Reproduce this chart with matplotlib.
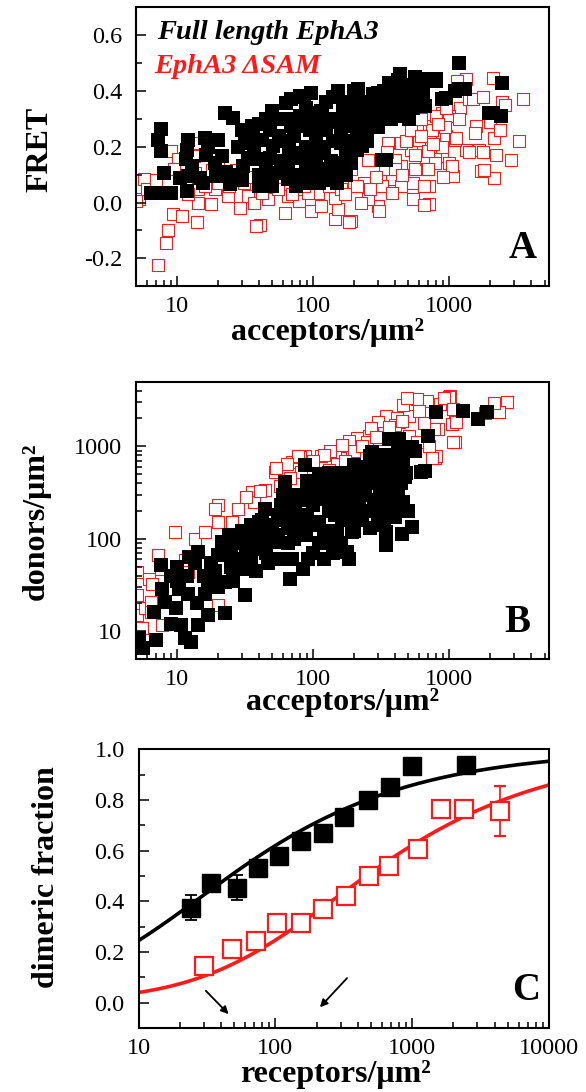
import matplotlib
matplotlib.use("Agg")
import matplotlib.pyplot as plt
import numpy as np
from matplotlib.ticker import FixedLocator, LogLocator, MultipleLocator, NullFormatter, FuncFormatter

plt.rcParams["font.family"] = ["Liberation Serif", "DejaVu Serif"]

# ---- panel A: FRET vs acceptor density ----
fl_a_x = [7.6, 7.3, 7.7, 8.0, 6.45, 7.7, 9.1, 10.5, 12.1, 11.9, 11.6, 12.1, 11.9, 14.7, 16.0, 16.3, 15.5,
          20.1, 19.2, 22.6, 26.0, 21.3, 24.4, 31.7, 30.4, 35.5, 38.5, 41.6, 40, 52.8, 51, 52.8, 62.7, 68.3,
          68.3, 74, 65, 77, 80, 56, 42, 37, 75,
          96.7, 152, 214, 301, 436, 425, 597, 793, 888, 1180, 1300, 1180, 2090, 319, 345, 108, 144, 91,
          191, 254, 337, 449, 502, 597, 161, 121, 227, 86, 117,
          2430, 1970, 2410, 1250, 940, 708, 800, 665, 1100,
          45, 45, 58, 58, 72, 72, 88, 88, 88, 105, 105, 105, 125, 125, 125, 150, 150, 150, 175, 175, 175,
          210, 210, 210, 250, 250, 250, 300, 300, 370, 370, 450, 450, 540, 540, 640, 640, 110, 130,
          28, 28, 33, 36, 48, 48, 48, 62, 62, 66, 80, 80, 80, 95, 95, 115, 115, 115, 135, 135, 140, 160,
          160, 165, 190, 190, 195, 230, 230, 275, 275, 330, 330, 410, 500, 500, 19, 23, 17, 13,
          100, 100, 100, 115, 140, 140, 170, 170, 200, 200, 200, 240, 240, 280, 280, 320, 320, 360, 360,
          420, 420, 480, 480, 560, 560, 30, 30, 40, 40, 50, 50, 65, 65, 85, 85, 95, 95]
fl_a_y = [0.262, 0.226, 0.184, 0.107, 0.035, 0.035, 0.035, 0.089, 0.226, 0.19, 0.155, 0.095, 0.04, 0.089,
          0.23, 0.172, 0.07, 0.226, 0.095, 0.322, 0.304, 0.166, 0.065, 0.214, 0.131, 0.274, 0.155, 0.083,
          0.059, 0.298, 0.202, 0.107, 0.358, 0.274, 0.37, 0.179, 0.083, 0.274, 0.382, 0.238, 0.226, 0.19,
          0.059,
          0.394, 0.40, 0.406, 0.394, 0.46, 0.417, 0.436, 0.442, 0.37, 0.406, 0.406, 0.501, 0.322, 0.154,
          0.154, 0.094, 0.107, 0.071, 0.274, 0.31, 0.334, 0.358, 0.298, 0.358, 0.214, 0.179, 0.202, 0.274,
          0.31,
          0.43, 0.322, 0.31, 0.406, 0.376, 0.442, 0.436, 0.346, 0.40,
          0.12, 0.30, 0.15, 0.22, 0.10, 0.24, 0.13, 0.20, 0.34, 0.16, 0.23, 0.30, 0.10, 0.26, 0.36, 0.07,
          0.14, 0.29, 0.10, 0.18, 0.36, 0.19, 0.26, 0.36, 0.22, 0.28, 0.36, 0.27, 0.36, 0.30, 0.40, 0.31,
          0.40, 0.34, 0.40, 0.37, 0.42, 0.07, 0.08,
          0.10, 0.20, 0.16, 0.24, 0.08, 0.16, 0.26, 0.12, 0.30, 0.19, 0.08, 0.16, 0.31, 0.10, 0.26, 0.12,
          0.20, 0.33, 0.15, 0.30, 0.38, 0.11, 0.25, 0.33, 0.14, 0.22, 0.31, 0.24, 0.33, 0.31, 0.39, 0.30,
          0.40, 0.34, 0.36, 0.42, 0.14, 0.11, 0.20, 0.13,
          0.12, 0.20, 0.27, 0.28, 0.10, 0.22, 0.14, 0.28, 0.22, 0.30, 0.40, 0.26, 0.32, 0.28, 0.35, 0.33,
          0.38, 0.35, 0.43, 0.37, 0.44, 0.33, 0.39, 0.38, 0.45, 0.26, 0.08, 0.10, 0.28, 0.06, 0.33, 0.30,
          0.14, 0.08, 0.38, 0.16, 0.32]

dsam_a_x = [5.3, 5.76, 7.2, 8.3, 8.6, 9.3, 10.8, 14.0, 9.1, 10.8, 10.2, 13.3, 13.6, 14.2, 18, 14.2, 19,
            23.8, 29.1, 33, 36.5, 41, 47, 62, 65, 79, 80, 20, 27, 24, 31, 42, 14.2, 17.8,
            1180, 888, 1200, 1400, 1580, 1320, 1650, 1700, 1000, 708, 720, 940, 1100, 888, 708, 560, 670,
            520, 440, 380, 540, 440, 355, 318, 300, 253, 305, 225, 191, 144, 152, 96, 115, 144, 200, 237,
            335, 191, 253, 108, 160, 91, 400, 440, 380, 540, 600, 790, 1000, 1060,
            3470, 3270, 2850, 2140, 1810, 2090, 2440, 2550, 2140, 2200, 1780, 1400, 1550, 1320, 1130, 1490,
            1780, 1180, 1120, 935, 880, 1050, 780, 740, 700, 708, 800, 2000, 2360, 680, 650,
            5.0, 6, 7, 9.5, 12, 16, 20, 25, 33, 40, 55, 70, 85, 130, 170, 210, 260, 290, 350, 400, 450, 480,
            520, 560, 620, 620, 700, 760, 820, 900, 950, 183, 650, 38]
dsam_a_y = [0.011, 0.083, -0.223, -0.145, -0.10, -0.043, -0.048, -0.069, 0.184, 0.118, 0.155, 0.166, 0.107,
            0.048, 0.118, 0.214, 0.048, 0.024, -0.018, 0.024, 0.0, -0.079, 0.011, -0.036, 0.024, 0.005,
            0.059, 0.155, 0.118, 0.059, 0.071, 0.035, 0.0, -0.006,
            0.423, 0.32, 0.34, 0.37, 0.274, 0.19, 0.19, 0.113, 0.31, 0.274, 0.226, 0.238, 0.226, 0.166,
            0.059, 0.119, 0.155, 0.19, 0.131, 0.083, 0.011, 0.214, 0.214, 0.059, -0.013, 0.011, -0.031, 0.0,
            -0.067, -0.06, -0.024, -0.03, -0.012, 0.017, 0.059, 0.071, 0.119, 0.119, 0.154, 0.035, 0.047,
            0.035, 0.154, 0.059, 0.035, 0.071, 0.226, 0.155, 0.142, 0.095,
            0.37, 0.22, 0.154, 0.089, 0.118, 0.448, 0.36, 0.35, 0.23, 0.17, 0.18, 0.18, 0.25, 0.442, 0.436,
            0.37, 0.38, 0.30, 0.23, 0.27, 0.20, 0.13, 0.14, 0.26, 0.185, -0.004, 0.31, 0.29, 0.26, 0.12,
            0.06,
            0.005, 0.05, 0.08, 0.12, 0.03, 0.06, 0.07, 0.10, 0.09, 0.07, 0.05, 0.03, 0.06, 0.06, 0.03, 0.06,
            0.05, 0.09, 0.18, 0.12, 0.10, 0.22, 0.26, 0.17, 0.24, 0.30, 0.12, 0.21, 0.28, 0.09, 0.34, -0.07,
            -0.01, -0.083]

# ---- panel B: donors vs acceptors ----
fl_b_x = [5.25, 5.65, 7.0, 7.7, 6.8, 7.8, 8.2, 9.8, 10.7, 11.4, 12.7, 10.4, 11.8, 14.2, 16.8, 22.5, 12.2,
          14.2, 13.5, 15.9, 17.9, 20.1, 21.3, 22.5, 24, 26.7, 31.7, 30, 35.5, 39.9, 44.6, 47, 52.8, 66, 68,
          62.5, 74, 88, 84,
          800, 1265, 1635, 1880, 693, 536, 555, 427, 362, 618, 453, 473, 536, 453, 340, 340, 182, 178, 271,
          350, 385, 326, 326, 256, 204, 216, 162, 145, 115, 103, 92, 129, 192, 86.5, 660,
          18, 25, 28, 35, 40, 45, 50, 55, 60, 65, 70, 75, 80, 90, 95, 100, 110, 115, 120, 130, 140, 150,
          160, 170, 180, 200, 220, 240, 260, 280, 300, 320, 350, 380, 420, 460, 60, 90, 130, 40, 30, 22,
          200, 150, 110,
          20, 25, 32, 38, 42, 48, 55, 58, 65, 72, 78, 85, 95, 105, 120, 125, 135, 145, 165, 175, 190, 210,
          230, 250, 270, 290, 310, 340, 370, 400, 440, 480, 45, 35, 28, 16, 19, 12, 9, 10,
          200, 230, 260, 300, 330, 360, 400, 280, 240, 180, 160, 140, 190, 220, 260, 300, 420, 460, 500,
          380, 330, 120, 100, 85, 70, 75, 110, 55, 62, 42, 33, 26, 17, 14, 9, 10]
fl_b_y = [8.4, 6.5, 8.0, 51.6, 16.2, 28.9, 20.7, 17.6, 11.6, 8.4, 7.7, 28.9, 40, 11.6, 14.9, 15.6, 63.6,
          72, 55, 40, 55, 66, 92, 34, 109, 60.8, 24.5, 47.5, 78, 128, 211, 55, 92, 180, 37, 409, 249, 109,
          47.5,
          2330, 2430, 1977, 2330, 1300, 975, 890, 1200, 1200, 525, 211, 470, 134, 113, 85, 118, 60.8, 72,
          861, 701, 319, 319, 165, 483, 483, 229, 165, 319, 483, 140, 60.8, 92, 118, 620, 547,
          40, 50, 90, 60, 100, 70, 140, 110, 160, 90, 200, 140, 260, 180, 330, 230, 150, 380, 270, 200,
          420, 300, 520, 380, 250, 620, 420, 300, 560, 700, 400, 250, 600, 450, 900, 700, 300, 420, 520,
          150, 120, 70, 180, 120, 90,
          30, 80, 70, 45, 160, 120, 60, 230, 130, 100, 180, 300, 140, 320, 120, 430, 260, 180, 230, 450,
          330, 250, 520, 400, 200, 550, 330, 450, 280, 600, 400, 520, 90, 140, 55, 25, 45, 25, 40, 50,
          120, 160, 130, 180, 140, 220, 170, 260, 200, 160, 90, 70, 400, 600, 780, 600, 300, 250, 200,
          700, 800, 60, 70, 110, 60, 300, 500, 180, 250, 110, 100, 35, 30, 20, 12, 35]

dsam_b_x = [2660, 2300, 1008, 898, 1098, 1048, 1098, 780, 708, 824, 681, 1120,
            582, 1000, 848, 778, 800, 713, 507, 428, 360, 381, 303, 256, 222, 171, 144, 115, 86.5, 192, 285,
            507, 582, 1067,
            5.1, 5.1, 5.1, 5.56, 5.8, 6.2, 6.6, 6.4, 7.2, 7.8, 9.0, 9.6, 11.4, 13.5, 16, 20.1, 20, 19, 25.2,
            28.3, 35.5, 37, 44.6, 52.8, 70.5, 80, 82, 57, 32, 24, 20, 15, 12, 7.6, 6.4,
            1840, 2140, 456, 485, 910, 1070, 740, 342, 416, 300, 267, 210, 183, 162, 134, 120, 99, 77, 68,
            64, 53, 41, 32,
            110, 150, 200, 250, 330, 400, 130, 170, 230, 290, 360, 450, 600, 650]
dsam_b_y = [2990, 2330, 3520, 2890, 2240, 1757, 1100, 750, 1017, 1540, 3110, 1840,
            3240, 3400, 2850, 1540, 794, 1018, 2140, 1815, 1950, 1476, 1200, 1300, 1105, 1018, 861, 794, 794,
            794, 794, 1300, 1105, 1105,
            43.7, 24.5, 14.9, 10.7, 17.6, 37, 32, 20.7, 66, 11.6, 40, 118, 58.6, 100, 118, 229, 151, 210, 151,
            210, 319, 249, 333, 525, 671, 761, 525, 370, 118, 109, 19, 55, 43.7, 47, 16,
            2270, 2910, 2790, 3300, 3300, 2560, 750, 2100, 2020, 1850, 1570, 1228, 1131, 1041, 884, 814, 690,
            781, 458, 636, 586, 330, 280,
            500, 650, 900, 1100, 1400, 1700, 560, 700, 1000, 1250, 1600, 1900, 2400, 1800]

# ---- panel C: dimeric fraction ----
fl_c_x = [24, 34, 52, 75, 107, 153, 224, 318, 472, 688, 1000, 2490]
fl_c_y = [0.375, 0.474, 0.454, 0.53, 0.58, 0.638, 0.671, 0.733, 0.80, 0.851, 0.934, 0.94]
fl_c_yerr = [0.05, 0.02, 0.05, 0.02, 0.02, 0.02, 0.015, 0.02, 0.015, 0.015, 0.03, 0.015]

dsam_c_x = [30, 48.5, 72, 103, 153, 223, 330, 481, 676, 1100, 1625, 2410, 4370]
dsam_c_y = [0.145, 0.21, 0.243, 0.313, 0.313, 0.368, 0.421, 0.50, 0.54, 0.608, 0.766, 0.766, 0.757]
dsam_c_yerr = [0.015, 0.03, 0.015, 0.015, 0.015, 0.015, 0.015, 0.015, 0.015, 0.015, 0.015, 0.015, 0.10]
dsam_c_xerr = [0, 0, 0, 0, 0, 0, 0, 0, 0, 80, 100, 250, 0]

# fitted dissociation constants (receptors/um^2) for the monomer-dimer model
kd_fl = 46.5
kd_dsam = 460.0

RED = "#ff1a1a"


def dimer_fraction(c, kd):
    m = (-kd + np.sqrt(kd ** 2 + 8 * kd * c)) / 4.0
    return 1 - m / c


def int_fmt(v, _):
    return f"{v:g}"


def dec_fmt(v, _):
    if abs(v) < 1e-9:
        v = 0.0
    return f"{v:.1f}"


def style_axes(ax):
    for s in ax.spines.values():
        s.set_linewidth(1.5)
    ax.tick_params(which="both", direction="in", top=False, right=False, width=1.1, labelsize=17.5)
    ax.tick_params(which="major", length=7)
    ax.tick_params(which="minor", length=4)
    ax.tick_params(axis="x", pad=7)
    ax.tick_params(axis="y", pad=10)


def log_axis(axis, majors):
    axis.set_major_locator(FixedLocator(majors))
    axis.set_minor_locator(LogLocator(base=10, subs=np.arange(2, 10)))
    axis.set_major_formatter(FuncFormatter(int_fmt))
    axis.set_minor_formatter(NullFormatter())


label_kw = dict(fontsize=23, fontweight="bold")

fig = plt.figure(figsize=(5.86, 10.92), dpi=100)
ax_a = fig.add_axes([0.232, 0.738, 0.705, 0.2552])
ax_b = fig.add_axes([0.232, 0.3965, 0.705, 0.254])
ax_c = fig.add_axes([0.2365, 0.0586, 0.7003, 0.2552])

# panel A
ax_a.scatter(dsam_a_x, dsam_a_y, marker="s", s=68, facecolors="white", edgecolors=RED, linewidths=0.8)
ax_a.scatter(fl_a_x, fl_a_y, marker="s", s=105, color="black", linewidths=0)
ax_a.set_xscale("log")
ax_a.set_xlim(5, 5400)
ax_a.set_ylim(-0.3, 0.7)
log_axis(ax_a.xaxis, [10, 100, 1000])
ax_a.yaxis.set_major_locator(MultipleLocator(0.2))
ax_a.yaxis.set_minor_locator(MultipleLocator(0.1))
ax_a.yaxis.set_major_formatter(FuncFormatter(dec_fmt))
style_axes(ax_a)
ax_a.set_xlabel("acceptors/μm²", va="baseline", **label_kw)
ax_a.xaxis.set_label_coords(0.465, -0.194)
ax_a.set_ylabel("FRET", va="center", **label_kw)
ax_a.yaxis.set_label_coords(-0.232, 0.49)
ax_a.text(0.051, 0.886, "Full length EphA3", transform=ax_a.transAxes, fontsize=20.5,
          fontweight="bold", style="italic", color="black", va="baseline")
ax_a.text(0.043, 0.764, "EphA3 ΔSAM", transform=ax_a.transAxes, fontsize=20.5,
          fontweight="bold", style="italic", color=RED, va="baseline")
ax_a.text(0.97, 0.10, "A", transform=ax_a.transAxes, fontsize=28, fontweight="bold",
          ha="right", va="baseline")

# panel B
ax_b.scatter(dsam_b_x, dsam_b_y, marker="s", s=70, facecolors="white", edgecolors=RED, linewidths=0.8)
ax_b.scatter(fl_b_x, fl_b_y, marker="s", s=110, color="black", linewidths=0)
ax_b.set_xscale("log")
ax_b.set_yscale("log")
ax_b.set_xlim(5, 5400)
ax_b.set_ylim(5, 5000)
log_axis(ax_b.xaxis, [10, 100, 1000])
log_axis(ax_b.yaxis, [10, 100, 1000])
style_axes(ax_b)
ax_b.set_xlabel("acceptors/μm²", va="baseline", **label_kw)
ax_b.xaxis.set_label_coords(0.499, -0.185)
ax_b.set_ylabel("donors/μm²", va="center", **label_kw)
ax_b.yaxis.set_label_coords(-0.242, 0.498)
ax_b.text(0.954, 0.098, "B", transform=ax_b.transAxes, fontsize=28, fontweight="bold",
          ha="right", va="baseline")

# panel C
c_grid = np.logspace(1, 4, 300)
ax_c.plot(c_grid, dimer_fraction(c_grid, kd_fl), color="black", lw=2.6, zorder=2)
ax_c.plot(c_grid, dimer_fraction(c_grid, kd_dsam), color=RED, lw=2.6, zorder=2)
ax_c.errorbar(fl_c_x, fl_c_y, yerr=fl_c_yerr, fmt="s", ms=13, color="black", mfc="black",
              mec="black", ecolor="black", elinewidth=1.3, capsize=4.5, capthick=1.3, zorder=3)
ax_c.errorbar(dsam_c_x, dsam_c_y, yerr=dsam_c_yerr, xerr=dsam_c_xerr, fmt="s", ms=13, color=RED,
              mfc="white", mec=RED, mew=1.6, ecolor=RED, elinewidth=1.3, capsize=4.5, capthick=1.3,
              zorder=3)
ax_c.set_xscale("log")
ax_c.set_xlim(10, 10000)
ax_c.set_ylim(-0.1, 1.0)
log_axis(ax_c.xaxis, [10, 100, 1000, 10000])
ax_c.yaxis.set_major_locator(MultipleLocator(0.2))
ax_c.yaxis.set_minor_locator(MultipleLocator(0.1))
ax_c.yaxis.set_major_formatter(FuncFormatter(dec_fmt))
style_axes(ax_c)
ax_c.set_xlabel("receptors/μm²", va="baseline", **label_kw)
ax_c.xaxis.set_label_coords(0.479, -0.193)
ax_c.set_ylabel("dimeric fraction", va="center", **label_kw)
ax_c.yaxis.set_label_coords(-0.2256, 0.54)
ax_c.text(0.978, 0.10, "C", transform=ax_c.transAxes, fontsize=28, fontweight="bold",
          ha="right", va="baseline")
arrow = dict(arrowstyle="-|>", color="black", lw=1.3, mutation_scale=11)
ax_c.annotate("", xy=(47, -0.053), xytext=(30, 0.055), arrowprops=arrow)
ax_c.annotate("", xy=(205, -0.026), xytext=(345, 0.105), arrowprops=arrow)

fig.savefig("out.png", dpi=100)
